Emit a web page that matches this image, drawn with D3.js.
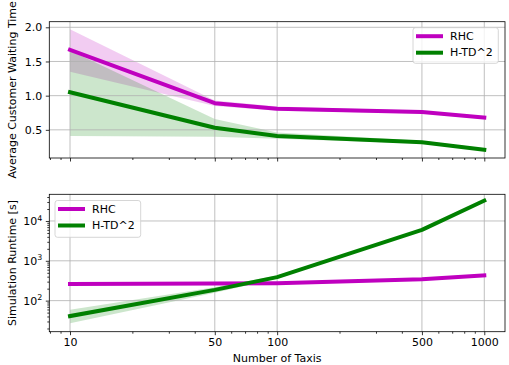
<!DOCTYPE html>
<html>
<head>
<meta charset="utf-8">
<script src="https://cdn.jsdelivr.net/npm/d3@7"></script>
<style>
  body { margin: 0; background: #fff; }
  text { font-family: "DejaVu Sans", sans-serif; }
</style>
</head>
<body>
<div id="chart"></div>
<script>
// data
const taxis = [10, 50, 100, 500, 1000];
const xTicks = [10, 50, 100, 500, 1000];

const rhcWait = [1.67, 0.89, 0.81, 0.76, 0.68];
const rhcWaitLo = [1.35, 0.85, 0.78, 0.74, 0.66];
const rhcWaitHi = [1.97, 0.93, 0.84, 0.78, 0.70];
const htdWait = [1.05, 0.53, 0.41, 0.32, 0.21];
const htdWaitLo = [0.41, 0.40, 0.37, 0.30, 0.19];
const htdWaitHi = [1.66, 0.66, 0.46, 0.34, 0.23];
const waitTicks = [0.5, 1.0, 1.5, 2.0];

const rhcRun = [263, 268, 275, 345, 430];
const rhcRunLo = [255, 260, 267, 335, 418];
const rhcRunHi = [271, 276, 283, 355, 442];
const htdRun = [41, 186, 390, 6000, 32600];
const htdRunLo = [27, 158, 360, 5700, 31000];
const htdRunHi = [59, 218, 425, 6300, 34200];
const runTicks = [100, 1000, 10000];

const seriesNames = ["RHC", "H-TD^2"];
const colors = ["#bf00bf", "#008000"];

const width = 509, height = 365;
const left = 49.3, right = 505;
const top1 = 21.7, bottom1 = 158;
const top2 = 194.3, bottom2 = 331.7;

const svg = d3.select("#chart").append("svg")
  .attr("width", width)
  .attr("height", height);

const x = d3.scaleLog()
  .domain([Math.pow(10, 0.9), Math.pow(10, 3.1)])
  .range([left, right]);

const yWait = d3.scaleLinear()
  .domain([0.088, 2.082])
  .range([bottom1, top1]);

const yRun = d3.scaleLog()
  .domain([Math.pow(10, 1.22), Math.pow(10, 4.67)])
  .range([bottom2, top2]);

// minor ticks for log x axis (2..9 x decade)
const xMinor = [];
[1, 10, 100].forEach(dec => {
  for (let k = 2; k <= 9; k++) {
    const v = k * dec;
    if (v >= x.domain()[0] && v <= x.domain()[1] && !xTicks.includes(v)) xMinor.push(v);
  }
});
const yMinor = [];
[10, 100, 1000, 10000].forEach(dec => {
  for (let k = 2; k <= 9; k++) {
    const v = k * dec;
    if (v >= yRun.domain()[0] && v <= yRun.domain()[1]) yMinor.push(v);
  }
});

function drawPanel(y, top, bottom, yTicks, bands, lines) {
  const g = svg.append("g");

  // bands first (below grid)
  bands.forEach(b => {
    const area = d3.area()
      .x((d, i) => x(taxis[i]))
      .y0((d, i) => y(b.lo[i]))
      .y1((d, i) => y(b.hi[i]));
    g.append("path")
      .attr("d", area(taxis))
      .attr("fill", b.color)
      .attr("fill-opacity", 0.2);
  });

  // grid
  g.selectAll(".gx").data(xTicks).enter().append("line")
    .attr("x1", d => x(d)).attr("x2", d => x(d))
    .attr("y1", top).attr("y2", bottom)
    .attr("stroke", "#b0b0b0").attr("stroke-width", 0.8);
  g.selectAll(".gy").data(yTicks).enter().append("line")
    .attr("x1", left).attr("x2", right)
    .attr("y1", d => y(d)).attr("y2", d => y(d))
    .attr("stroke", "#b0b0b0").attr("stroke-width", 0.8);

  // lines
  lines.forEach(l => {
    const line = d3.line()
      .x((d, i) => x(taxis[i]))
      .y((d, i) => y(l.values[i]));
    g.append("path")
      .attr("d", line(taxis))
      .attr("fill", "none")
      .attr("stroke", l.color)
      .attr("stroke-width", 4)
      .attr("stroke-linejoin", "round")
      .attr("stroke-linecap", "square");
  });

  // frame
  g.append("rect")
    .attr("x", left).attr("y", top)
    .attr("width", right - left).attr("height", bottom - top)
    .attr("fill", "none").attr("stroke", "#000").attr("stroke-width", 0.8);

  return g;
}

function styleAxis(ax) {
  ax.select(".domain").remove();
  ax.selectAll("line").attr("stroke", "#000").attr("stroke-width", 0.8);
  ax.selectAll("text").attr("font-size", 11).attr("fill", "#000")
    .style("font-family", "'DejaVu Sans', sans-serif");
}

// top panel: waiting time
drawPanel(yWait, top1, bottom1, waitTicks,
  [{ lo: rhcWaitLo, hi: rhcWaitHi, color: colors[0] },
   { lo: htdWaitLo, hi: htdWaitHi, color: colors[1] }],
  [{ values: rhcWait, color: colors[0] },
   { values: htdWait, color: colors[1] }]);

const yAx1 = svg.append("g")
  .attr("transform", `translate(${left},0)`)
  .call(d3.axisLeft(yWait).tickValues(waitTicks).tickFormat(d3.format(".1f")).tickSize(3.5).tickPadding(3.5));
styleAxis(yAx1);

const xAx1 = svg.append("g")
  .attr("transform", `translate(0,${bottom1})`)
  .call(d3.axisBottom(x).tickValues(xTicks).tickFormat("").tickSize(3.5));
styleAxis(xAx1);
const xAx1m = svg.append("g")
  .attr("transform", `translate(0,${bottom1})`)
  .call(d3.axisBottom(x).tickValues(xMinor).tickFormat("").tickSize(2));
styleAxis(xAx1m);

// bottom panel: runtime
drawPanel(yRun, top2, bottom2, runTicks,
  [{ lo: rhcRunLo, hi: rhcRunHi, color: colors[0] },
   { lo: htdRunLo, hi: htdRunHi, color: colors[1] }],
  [{ values: rhcRun, color: colors[0] },
   { values: htdRun, color: colors[1] }]);

const yAx2 = svg.append("g")
  .attr("transform", `translate(${left},0)`)
  .call(d3.axisLeft(yRun).tickValues(runTicks).tickFormat("").tickSize(3.5).tickPadding(3.5));
styleAxis(yAx2);
yAx2.selectAll(".tick text").each(function (d) {
  const t = d3.select(this);
  t.text("10");
  t.append("tspan").attr("dy", "-0.55em").attr("font-size", "0.72em").text(Math.round(Math.log10(d)));
});
const yAx2m = svg.append("g")
  .attr("transform", `translate(${left},0)`)
  .call(d3.axisLeft(yRun).tickValues(yMinor).tickFormat("").tickSize(2));
styleAxis(yAx2m);

const xAx2 = svg.append("g")
  .attr("transform", `translate(0,${bottom2})`)
  .call(d3.axisBottom(x).tickValues(xTicks).tickFormat(d3.format("d")).tickSize(3.5).tickPadding(3.5));
styleAxis(xAx2);
const xAx2m = svg.append("g")
  .attr("transform", `translate(0,${bottom2})`)
  .call(d3.axisBottom(x).tickValues(xMinor).tickFormat("").tickSize(2));
styleAxis(xAx2m);

// axis labels
svg.append("text")
  .attr("transform", `translate(12,${(top1 + bottom1) / 2}) rotate(-90)`)
  .attr("text-anchor", "middle").attr("dominant-baseline", "central")
  .attr("font-size", 11).text("Average Customer Waiting Time");
svg.append("text")
  .attr("transform", `translate(12,${(top2 + bottom2) / 2}) rotate(-90)`)
  .attr("text-anchor", "middle").attr("dominant-baseline", "central")
  .attr("font-size", 11).text("Simulation Runtime [s]");
svg.append("text")
  .attr("x", (left + right) / 2).attr("y", 362)
  .attr("text-anchor", "middle")
  .attr("font-size", 11).text("Number of Taxis");

// legends
function legend(lx, ly, w, h) {
  const g = svg.append("g").attr("transform", `translate(${lx},${ly})`);
  g.append("rect")
    .attr("width", w).attr("height", h).attr("rx", 2.5)
    .attr("fill", "#fff").attr("fill-opacity", 0.8)
    .attr("stroke", "#cccccc").attr("stroke-width", 0.8);
  seriesNames.forEach((name, i) => {
    const ry = 8.5 + i * 16.5;
    g.append("line")
      .attr("x1", 3).attr("x2", 30)
      .attr("y1", ry).attr("y2", ry)
      .attr("stroke", colors[i]).attr("stroke-width", 4);
    g.append("text")
      .attr("x", 37).attr("y", ry)
      .attr("dominant-baseline", "central")
      .attr("font-size", 11).text(name);
  });
}
legend(413, 27.7, 85.3, 35.6);
legend(55, 200.5, 85.7, 36.8);
</script>
</body>
</html>
